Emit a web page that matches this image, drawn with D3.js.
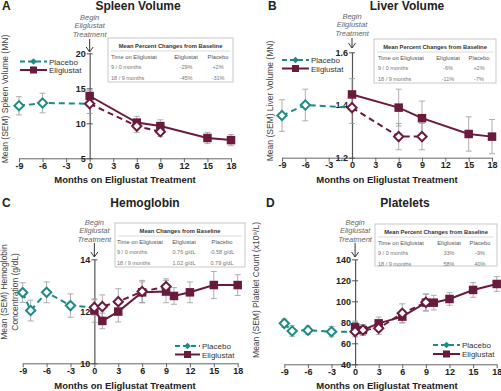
<!DOCTYPE html>
<html><head><meta charset="utf-8">
<script src="https://cdn.jsdelivr.net/npm/d3@7"></script>
<style>
html,body{margin:0;padding:0;background:#fff;}
svg{display:block;font-family:"Liberation Sans",Arial,sans-serif;}
</style></head>
<body><svg id="c" width="501" height="391"></svg>
<script>
// ---------- DATA ----------
const xTicks = [-9,-6,-3,0,3,6,9,12,15,18];

// A: Spleen volume (MN)
const spleenPlaceboMonths = [-9,-6,0,6,9];
const spleenPlaceboMean   = [12.5,12.9,12.8,9.6,8.8];
const spleenPlaceboSEM    = [1.3,1.4,1.4,0.9,0.7];
const spleenEligMonths    = [0,6,9,15,18];
const spleenEligMean      = [13.9,10.1,9.6,7.9,7.6];
const spleenEligSEM       = [0.8,0.9,0.9,0.8,0.8];
const spleenYTicks        = [5,10,15,20];

// B: Liver volume (MN)
const liverPlaceboMonths = [-9,-6,0,6,9];
const liverPlaceboMean   = [1.36,1.40,1.39,1.28,1.28];
const liverPlaceboSEM    = [0.06,0.06,0.06,0.05,0.05];
const liverEligMonths    = [0,6,9,15,18];
const liverEligMean      = [1.44,1.39,1.35,1.29,1.28];
const liverEligSEM       = [0.06,0.07,0.065,0.065,0.065];
const liverYTicks        = [1.2,1.4,1.6];

// C: Hemoglobin (g/dL)
const hbPlaceboMonths = [-9,-8,-6,-3,0,1,3,6,9];
const hbPlaceboMean   = [12.72,12.03,12.73,12.22,12.15,12.18,12.37,12.76,12.95];
const hbPlaceboSEM    = [0.38,0.4,0.4,0.45,0.3,0.45,0.5,0.43,0.3];
const hbEligMonths    = [0,1,3,6,9,10,12,15,18];
const hbEligMean      = [12.03,11.63,11.99,12.73,12.76,12.59,12.73,13.01,13.01];
const hbEligSEM       = [0.45,0.3,0.4,0.4,0.43,0.32,0.4,0.52,0.4];
const hbYTicks        = [10,12,14];

// D: Platelets (x10^9/L)
const pltPlaceboMonths = [-9,-8,-6,-3,0,1,3,6,9];
const pltPlaceboMean   = [79,71.7,72.4,71.1,71.1,72.7,74.3,88.6,99];
const pltPlaceboSEM    = [4,5,4,5,5,5,6,9,8];
const pltEligMonths    = [0,1,3,6,9,10,12,15,18];
const pltEligMean      = [75.2,72.7,79,85.4,98.7,98.7,102.2,110.8,116.5];
const pltEligSEM       = [6,5,6,6,8,7,6,7,7];
const pltYTicks        = [40,60,80,100,120,140];

// Tables
const tableCols = ["Time on Eliglustat","Eliglustat","Placebo"];
const tableRowLabels = ["9 / 0 months","18 / 9 months"];
const spleenTable = [["-29%","+2%"],["-45%","-31%"]];
const liverTable  = [["-6%","+2%"],["-11%","-7%"]];
const hbTable     = [["0.76 g/dL","-0.58 g/dL"],["1.02 g/dL","0.79 g/dL"]];
const pltTable    = [["33%","-9%"],["58%","40%"]];

// ---------- STYLE ----------
const TEAL = "#1e8a84", MAROON = "#6a1a3c", ERR = "#9a9a9a";
const svg = d3.select("#c");

function panel(o){
  const g = svg.append("g");
  const x = d3.scaleLinear().domain([-9,18]).range([o.x0,o.x1]);
  const y = d3.scaleLinear().domain(o.yDomain).range([o.yb,o.yt]);
  const x0 = x(0);

  // letter & title
  g.append("text").attr("x",o.letterX).attr("y",o.titleY).attr("font-size",12).attr("font-weight","bold").attr("fill","#222").text(o.letter);
  g.append("text").attr("x",o.titleX).attr("y",o.titleY).attr("text-anchor","middle").attr("font-size",12).attr("font-weight","bold").attr("fill","#222").text(o.title);

  // x axis
  const xa = g.append("g").attr("transform",`translate(0,${o.yb})`)
    .call(d3.axisBottom(x).tickValues(xTicks).tickSize(4).tickSizeOuter(0).tickFormat(d=>String(d)));
  xa.select(".domain").attr("stroke","#666");
  xa.selectAll(".tick line").attr("stroke","#666");
  xa.selectAll(".tick text").attr("font-size",9).attr("font-weight","bold").attr("fill","#222").attr("y",4).attr("dy","0.75em")
    .attr("font-family","Liberation Sans, Arial, sans-serif");
  g.append("text").attr("x",o.xLabelX).attr("y",o.xLabelY).attr("text-anchor","middle").attr("font-size",9.5).attr("font-weight","bold").attr("fill","#222").text("Months on Eliglustat Treatment");

  // y axis at month 0
  const ya = g.append("g").attr("transform",`translate(${x0},0)`)
    .call(d3.axisLeft(y).tickValues(o.yTicks).tickSize(3).tickSizeOuter(0).tickFormat(o.yFmt));
  ya.select(".domain").attr("stroke","#555").attr("stroke-width",1.2);
  ya.selectAll(".tick line").attr("stroke","#555").attr("x2",3).attr("x1",-3);
  ya.selectAll(".tick text").attr("font-size",9).attr("font-weight","bold").attr("fill","#222").attr("x",-4)
    .attr("font-family","Liberation Sans, Arial, sans-serif");

  // y label
  const yl = g.append("text").attr("transform",`translate(${o.yLabelX},${o.yLabelY}) rotate(-90)`).attr("text-anchor","middle").attr("font-size",8.5).attr("fill","#444");
  o.yLabel.forEach((t,i)=>yl.append("tspan").attr("x",0).attr("dy",i?10.5:0).text(t));

  // Begin annotation
  const bt = g.append("text").attr("text-anchor","middle").attr("font-size",7.5).attr("font-style","italic").attr("fill","#666");
  ["Begin","Eliglustat","Treatment"].forEach((t,i)=>bt.append("tspan").attr("x",x0).attr("y",o.beginY+i*8.3).text(t));
  g.append("line").attr("x1",x0).attr("x2",x0).attr("y1",o.arrowY1).attr("y2",o.arrowY2).attr("stroke","#333").attr("stroke-width",1);
  g.append("path").attr("d",`M${x0-3.5},${o.arrowY2-5}L${x0},${o.arrowY2}L${x0+3.5},${o.arrowY2-5}`).attr("fill","none").attr("stroke","#333").attr("stroke-width",1);

  // table
  const tb = g.append("g");
  tb.append("rect").attr("x",o.tb.x).attr("y",o.tb.y).attr("width",o.tb.w).attr("height",o.tb.h).attr("fill","#fff").attr("stroke","#bbb").attr("stroke-width",0.8);
  tb.append("text").attr("x",o.tb.x+o.tb.w/2).attr("y",o.tb.y+10).attr("text-anchor","middle").attr("font-size",5.8).attr("font-weight","bold").attr("fill","#333").text(o.tb.title);
  tb.append("line").attr("x1",o.tb.x+3).attr("x2",o.tb.x+o.tb.w-3).attr("y1",o.tb.y+13).attr("y2",o.tb.y+13).attr("stroke","#ccc").attr("stroke-width",0.7);
  const cx = [o.tb.c0,o.tb.c1,o.tb.c2];
  tableCols.forEach((t,i)=>tb.append("text").attr("x",cx[i]).attr("y",o.tb.y+20.5).attr("text-anchor",i?"middle":"start").attr("font-size",5.8).attr("fill","#555").text(t));
  tableRowLabels.forEach((r,ri)=>{
    const yy = o.tb.y+31+ri*10.5;
    tb.append("text").attr("x",cx[0]).attr("y",yy).attr("font-size",5.5).attr("fill","#777").text(r);
    o.tb.vals[ri].forEach((v,ci)=>tb.append("text").attr("x",cx[ci+1]).attr("y",yy).attr("text-anchor","middle").attr("font-size",5.5).attr("fill","#777").text(v));
  });

  // error bars
  function errs(months,mean,sem){
    months.forEach((m,i)=>{
      const xx=x(m), lo=y(mean[i]-sem[i]), hi=y(mean[i]+sem[i]);
      g.append("line").attr("x1",xx).attr("x2",xx).attr("y1",lo).attr("y2",hi).attr("stroke",ERR).attr("stroke-width",0.8);
      [lo,hi].forEach(v=>g.append("line").attr("x1",xx-3).attr("x2",xx+3).attr("y1",v).attr("y2",v).attr("stroke",ERR).attr("stroke-width",0.8));
    });
  }
  errs(o.pm,o.pv,o.ps);
  errs(o.em,o.ev,o.es);

  // lines
  const pts = o.pm.map((m,i)=>[m,o.pv[i]]);
  const line = d3.line().x(d=>x(d[0])).y(d=>y(d[1]));
  const pre = pts.filter(d=>d[0]<=0), post = pts.filter(d=>d[0]>=0);
  g.append("path").attr("d",line(pre)).attr("fill","none").attr("stroke",TEAL).attr("stroke-width",2).attr("stroke-dasharray","6,4");
  g.append("path").attr("d",line(post)).attr("fill","none").attr("stroke",MAROON).attr("stroke-width",2).attr("stroke-dasharray","6,4");
  const ept = o.em.map((m,i)=>[m,o.ev[i]]);
  g.append("path").attr("d",line(ept)).attr("fill","none").attr("stroke",MAROON).attr("stroke-width",2);

  // markers
  const sq = 8.5;
  ept.forEach(d=>g.append("rect").attr("x",x(d[0])-sq/2).attr("y",y(d[1])-sq/2).attr("width",sq).attr("height",sq).attr("fill",MAROON));
  const dia = d3.symbol().type(d3.symbolDiamond2).size(55);
  pts.forEach(d=>g.append("path").attr("d",dia()).attr("transform",`translate(${x(d[0])},${y(d[1])})`)
    .attr("fill","#fff").attr("stroke",d[0]<0?TEAL:MAROON).attr("stroke-width",2));

  // legend
  const L = o.leg;
  g.append("line").attr("x1",L.x1).attr("x2",L.x2).attr("y1",L.y).attr("y2",L.y).attr("stroke",TEAL).attr("stroke-width",2).attr("stroke-dasharray","5,3");
  g.append("path").attr("d",d3.symbol().type(d3.symbolDiamond2).size(28)()).attr("transform",`translate(${(L.x1+L.x2)/2},${L.y})`).attr("fill",TEAL);
  g.append("text").attr("x",L.x2+2).attr("y",L.y+3).attr("font-size",8).attr("fill","#333").text("Placebo");
  g.append("line").attr("x1",L.x1).attr("x2",L.x2).attr("y1",L.y+L.dy).attr("y2",L.y+L.dy).attr("stroke",MAROON).attr("stroke-width",2);
  g.append("rect").attr("x",(L.x1+L.x2)/2-3.5).attr("y",L.y+L.dy-3.5).attr("width",7).attr("height",7).attr("fill",MAROON);
  g.append("text").attr("x",L.x2+2).attr("y",L.y+L.dy+3).attr("font-size",8).attr("fill","#333").text("Eliglustat");
}

panel({letter:"A",letterX:2,title:"Spleen Volume",titleX:138,titleY:10,
  x0:19,x1:231,yDomain:[5,20],yb:158.3,yt:53.3,yTicks:spleenYTicks,yFmt:d3.format("d"),
  xLabelX:125,xLabelY:183,yLabel:["Mean (SEM) Spleen Volume (MN)"],yLabelX:8,yLabelY:99,
  beginY:20,arrowY1:39,arrowY2:52,
  tb:{x:108,y:38,w:125,h:44,title:"Mean Percent Changes from Baseline",c0:111,c1:186,c2:218,vals:spleenTable},
  pm:spleenPlaceboMonths,pv:spleenPlaceboMean,ps:spleenPlaceboSEM,em:spleenEligMonths,ev:spleenEligMean,es:spleenEligSEM,
  leg:{x1:20,x2:47,y:61.5,dy:8.5}});

panel({letter:"B",letterX:268,title:"Liver Volume",titleX:407,titleY:10,
  x0:282,x1:492,yDomain:[1.2,1.6],yb:157.7,yt:52.3,yTicks:liverYTicks,yFmt:d3.format(".1f"),
  xLabelX:387,xLabelY:183,yLabel:["Mean (SEM) Liver Volume (MN)"],yLabelX:273,yLabelY:101,
  beginY:19,arrowY1:38,arrowY2:48,
  tb:{x:374,y:39,w:122,h:44,title:"Mean Percent Changes from Baseline",c0:378,c1:448,c2:479,vals:liverTable},
  pm:liverPlaceboMonths,pv:liverPlaceboMean,ps:liverPlaceboSEM,em:liverEligMonths,ev:liverEligMean,es:liverEligSEM,
  leg:{x1:282,x2:309,y:60,dy:8.5}});

panel({letter:"C",letterX:2,title:"Hemoglobin",titleX:145,titleY:207,
  x0:22.7,x1:237.7,yDomain:[10,14],yb:363.3,yt:259.3,yTicks:hbYTicks,yFmt:d3.format("d"),
  xLabelX:125,xLabelY:389,yLabel:["Mean (SEM) Hemoglobin","Concentration (g/dL)"],yLabelX:7,yLabelY:292,
  beginY:225,arrowY1:243,arrowY2:257,
  tb:{x:115,y:223,w:130,h:44,title:"Mean Changes from Baseline",c0:117,c1:184,c2:222,vals:hbTable},
  pm:hbPlaceboMonths,pv:hbPlaceboMean,ps:hbPlaceboSEM,em:hbEligMonths,ev:hbEligMean,es:hbEligSEM,
  leg:{x1:175,x2:200,y:346,dy:8.5}});

panel({letter:"D",letterX:266,title:"Platelets",titleX:405,titleY:207,
  x0:284.3,x1:496.7,yDomain:[40,140],yb:364.3,yt:259.3,yTicks:pltYTicks,yFmt:d3.format("d"),
  xLabelX:387,xLabelY:389,yLabel:["Mean (SEM) Platelet Count (x10\u2079/L)"],yLabelX:259,yLabelY:290,
  beginY:225,arrowY1:243,arrowY2:257,
  tb:{x:375,y:224,w:122,h:42,title:"Mean Percent Changes from Baseline",c0:378,c1:449,c2:480,vals:pltTable},
  pm:pltPlaceboMonths,pv:pltPlaceboMean,ps:pltPlaceboSEM,em:pltEligMonths,ev:pltEligMean,es:pltEligSEM,
  leg:{x1:433,x2:460,y:345,dy:9}});
</script></body></html>
